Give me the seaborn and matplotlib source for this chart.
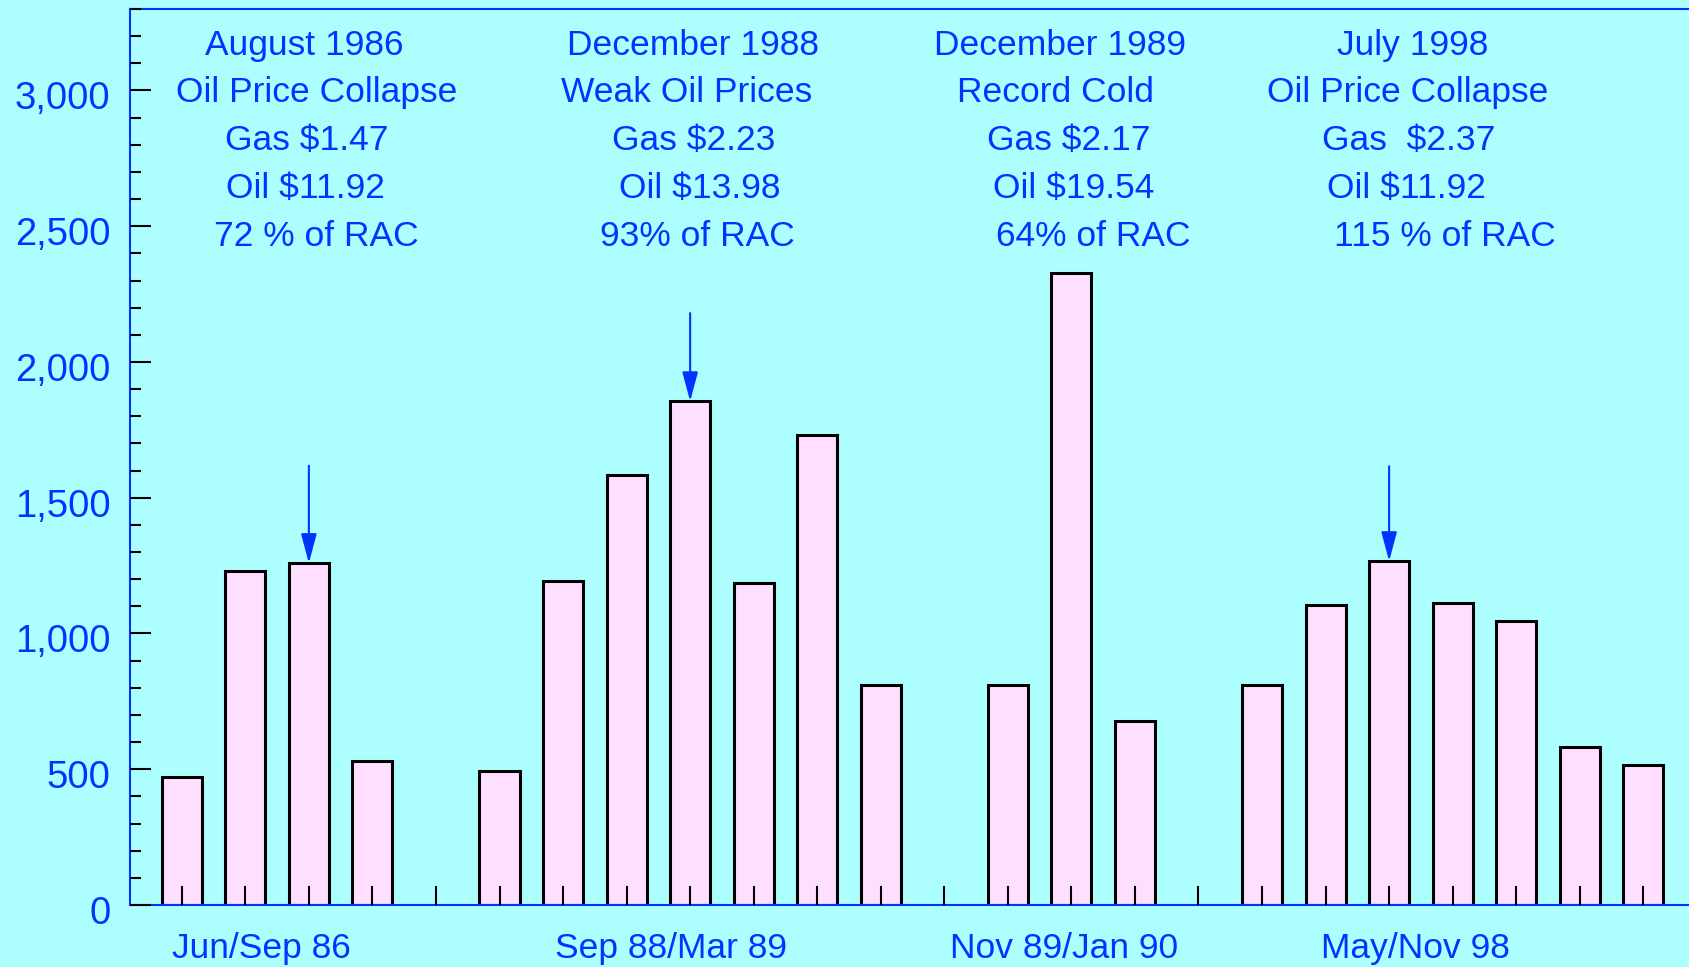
import pandas as pd
import matplotlib
matplotlib.use("Agg")
import matplotlib.pyplot as plt
import matplotlib.transforms as mtransforms
from matplotlib.ticker import MultipleLocator, FuncFormatter
import seaborn as sns

# bar heights for each episode
jun_sep_86 = [471, 1229, 1259, 530]
sep88_mar89 = [494, 1192, 1583, 1855, 1186, 1730, 810]
nov89_jan90 = [810, 2326, 677]
may_nov_98 = [810, 1104, 1266, 1113, 1046, 582, 515]

period_labels = ["Jun/Sep 86", "Sep 88/Mar 89", "Nov 89/Jan 90", "May/Nov 98"]

event_notes = [
    ["August 1986", "Oil Price Collapse", "Gas $1.47", "Oil $11.92", "72 % of RAC"],
    ["December 1988", "Weak Oil Prices", "Gas $2.23", "Oil $13.98", "93% of RAC"],
    ["December 1989", "Record Cold", "Gas $2.17", "Oil $19.54", "64% of RAC"],
    ["July 1998", "Oil Price Collapse", "Gas  $2.37", "Oil $11.92", "115 % of RAC"],
]

# bar (index within episode) that the arrow points at
arrow_bar = [2, 3, None, 2]

# layout only
note_x = [[1.93, 2.12, 1.97, 1.95, 2.12],
          [8.05, 7.95, 8.05, 8.15, 8.12],
          [13.82, 13.75, 13.96, 14.04, 14.35],
          [19.37, 19.29, 19.31, 19.28, 19.87]]
note_y = [3131, 2956, 2780, 2604, 2427]
label_x = [1.26, 7.70, 13.88, 19.41]
arrow_from = [1618, 2180, None, 1616]

bg = "#ADFFFF"
bar_fill = "#FFDFFF"
blue = "#0035FF"

# lay the episodes out side by side with one empty slot between them
rows = []
starts = []
pos = 0
for name, vals in zip(period_labels, [jun_sep_86, sep88_mar89, nov89_jan90, may_nov_98]):
    starts.append(pos)
    for v in vals:
        rows.append({"slot": pos, "value": v, "period": name})
        pos += 1
    pos += 1
df = pd.DataFrame(rows)
n_slots = pos - 1

sns.set_style("ticks")
plt.rcParams["font.family"] = ["Liberation Sans", "DejaVu Sans"]

fig = plt.figure(figsize=(16.9, 9.67), dpi=100, facecolor=bg)
ax = fig.add_axes([130 / 1690, 62 / 967, 1560 / 1690, 896 / 967])
ax.set_facecolor(bg)

sns.barplot(data=df, x="slot", y="value", native_scale=True, width=0.63,
            color=bar_fill, saturation=1, edgecolor="black", linewidth=2.2,
            errorbar=None, ax=ax)

ax.set_xlim(-0.815, 23.735)
ax.set_ylim(0, 3300)
ax.set_xlabel("")
ax.set_ylabel("")
ax.set_axisbelow(False)

ax.set_xticks(range(n_slots))
ax.tick_params(axis="x", direction="in", length=13.5, width=1.5, color="black",
               labelbottom=False)
ax.yaxis.set_major_locator(MultipleLocator(500))
ax.yaxis.set_minor_locator(MultipleLocator(100))
ax.yaxis.set_major_formatter(FuncFormatter(lambda v, p: f"{int(v):,}"))
ax.tick_params(axis="y", which="major", direction="in", length=15, width=1.5,
               color="black", labelcolor=blue, labelsize=27.5, pad=14)
ax.tick_params(axis="y", which="minor", direction="in", length=8, width=1.5,
               color="black")
shift = mtransforms.ScaledTranslation(0, -0.05, fig.dpi_scale_trans)
for lab in ax.get_yticklabels():
    lab.set_transform(lab.get_transform() + shift)

for side in ["left", "top", "bottom"]:
    ax.spines[side].set_color(blue)
    ax.spines[side].set_linewidth(1.5)
ax.spines["right"].set_visible(False)

# event notes above each episode
for lines, xs in zip(event_notes, note_x):
    for txt, x, y in zip(lines, xs, note_y):
        ax.text(x, y, txt, ha="center", va="baseline", fontsize=25.5, color=blue)

# arrows to the key month
for k, (b, y0) in enumerate(zip(arrow_bar, arrow_from)):
    if b is None:
        continue
    slot = starts[k] + b
    top = df.loc[df["slot"] == slot, "value"].iloc[0]
    ax.annotate("", xy=(slot, top), xytext=(slot, y0),
                arrowprops=dict(arrowstyle="-|>,head_length=0.4,head_width=0.107",
                                mutation_scale=45, color=blue, lw=1.5,
                                shrinkA=0, shrinkB=0))

# period labels under the axis
for name, x in zip(period_labels, label_x):
    ax.text(x, -195, name, ha="center", va="baseline", fontsize=25.5,
            color=blue, clip_on=False)

fig.savefig("out.png", dpi=100, facecolor=bg)
